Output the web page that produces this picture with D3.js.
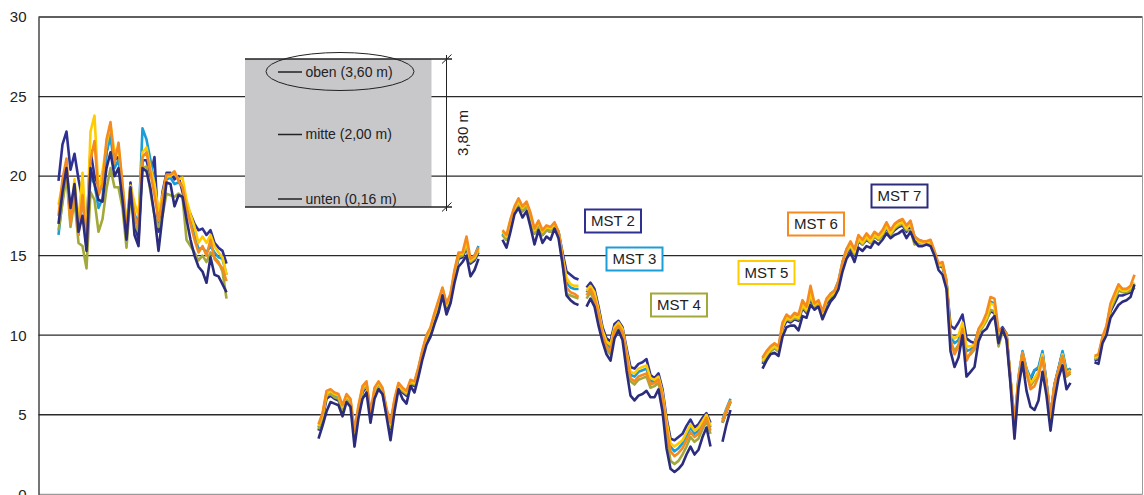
<!DOCTYPE html>
<html>
<head>
<meta charset="utf-8">
<script src="https://cdn.jsdelivr.net/npm/d3@7/dist/d3.min.js"></script>
<style>
  html, body { margin: 0; padding: 0; background: #fff; }
  svg { display: block; font-family: "Liberation Sans", Arial, sans-serif; }
</style>
</head>
<body>
<svg id="chart" width="1144" height="495"></svg>
<script>
// Measurement steps that carry data (inclusive ranges); gaps between them are missing readings
const segments = [[5, 47], [70, 110], [116, 135], [137, 168], [171, 173], [181, 258], [264, 274]];
const stepCount = 276;

const yTicks = [0, 5, 10, 15, 20, 25, 30];

const seriesNames = ["MST 2", "MST 3", "MST 4", "MST 5", "MST 6", "MST 7"];
const seriesColors = ["#2e3192", "#1b9dd9", "#a2a83a", "#ffcc00", "#f58a1f", "#2c2c7c"];

// Temperatures in °C, one value per step, listed segment after segment
const mst2 = [
  19.7,22.0,22.8,20.4,21.4,19.8,18.5,16.6,21.6,20.0,19.4,19.2,21.5,22.7,21.0,21.2,18.7,16.2,19.6,17.0,16.0,21.0,21.0,20.0,21.2,16.5,19.0,20.2,20.2,19.8,20.0,19.0,18.2,17.6,17.0,16.6,16.7,16.3,16.6,15.8,15.5,15.3,14.5,
  4.0,4.7,6.0,6.2,6.0,5.9,5.2,6.0,5.7,3.6,5.2,6.4,6.8,4.8,6.3,6.8,6.4,5.1,4.1,5.6,6.7,6.4,6.2,6.9,6.8,7.7,8.8,9.7,10.2,11.1,11.8,12.7,11.7,12.3,13.7,14.8,14.9,15.5,14.5,14.7,15.2,
  16.3,16.0,17.0,17.8,18.2,17.8,18.1,17.4,16.4,16.9,16.3,16.6,16.5,16.9,16.5,15.2,14.0,13.8,13.6,13.5,
  13.0,13.3,12.9,11.8,10.5,9.8,9.6,10.7,10.9,10.5,9.2,8.0,7.9,8.2,8.3,8.5,7.5,7.3,7.6,6.6,4.8,3.5,3.4,3.6,3.8,4.3,4.7,4.2,4.4,4.8,5.1,4.5,
  4.5,5.2,5.8,
  8.2,8.6,9.0,9.2,9.0,10.4,10.9,10.8,11.0,10.9,11.7,11.4,12.3,11.7,12.0,11.2,12.0,12.3,12.6,13.1,
  14.3,15.1,15.5,15.0,15.9,15.7,16.0,15.8,16.2,16.0,16.3,16.7,16.3,16.6,16.8,16.9,16.5,16.8,16.0,15.8,
  15.8,15.8,15.8,15.1,14.3,14.3,13.3,10.6,10.4,10.8,11.3,9.8,9.6,9.5,10.3,10.7,11.0,11.5,11.4,10.2,
  10.5,10.1,7.2,4.1,7.2,8.9,7.8,7.2,7.8,7.9,8.9,7.0,4.8,6.9,7.9,8.9,7.6,7.9,
  8.4,8.5,9.7,10.3,11.5,12.0,12.5,12.5,12.6,12.7,13.0
];
const mst3 = [
  16.3,18.5,20.5,17.5,19.0,16.3,19.0,15.6,20.0,19.5,18.0,18.6,21.5,22.5,20.5,21.0,19.2,16.8,19.0,17.6,17.0,23.0,22.3,21.0,19.5,17.3,18.5,19.8,19.9,19.5,19.6,19.4,18.0,17.2,16.3,15.4,15.5,15.2,15.6,15.2,14.9,14.8,13.8,
  4.2,4.9,6.3,6.4,6.2,6.1,5.4,6.2,5.8,3.8,5.4,6.6,7.0,4.9,6.5,7.0,6.6,5.3,4.3,5.8,6.9,6.6,6.4,7.1,7.0,7.9,9.0,9.9,10.4,11.3,12.0,12.9,11.9,12.5,13.9,15.0,15.1,15.7,14.7,15.0,15.6,
  16.4,16.1,17.1,17.9,18.3,17.9,18.2,17.5,16.5,17.0,16.4,16.7,16.6,17.0,16.5,14.9,13.3,13.0,12.9,12.9,
  12.7,13.0,12.5,11.5,10.2,9.5,9.2,10.4,10.7,10.3,8.9,7.5,7.4,7.7,7.8,7.9,7.1,7.1,7.3,6.3,4.4,3.0,2.7,2.9,3.2,3.7,4.2,3.8,4.0,4.5,4.9,4.2,
  4.7,5.4,6.0,
  8.5,8.9,9.2,9.4,9.2,10.6,11.2,11.1,11.3,11.2,12.0,11.7,12.5,11.9,12.1,11.4,12.2,12.6,12.8,13.4,
  14.6,15.4,15.8,15.3,16.2,15.9,16.3,16.0,16.4,16.2,16.5,17.0,16.5,16.9,17.1,17.2,16.8,17.1,16.2,16.0,
  15.9,15.9,15.9,15.2,14.4,14.5,13.4,9.9,9.5,9.7,10.6,9.0,9.1,9.3,10.2,10.6,11.2,12.1,12.0,10.1,
  10.4,10.0,7.2,4.2,7.4,9.0,7.9,7.3,7.8,8.0,9.0,7.0,4.9,6.9,7.9,9.0,7.8,7.9,
  8.6,8.7,9.8,10.5,11.8,12.4,13.1,12.9,12.9,13.0,13.2
];
const mst4 = [
  16.6,18.3,20.0,16.8,18.5,15.8,15.6,14.2,19.0,18.5,16.5,17.3,19.2,20.5,19.3,19.3,18.0,15.5,18.8,17.0,16.5,20.5,20.6,19.0,17.5,16.8,17.5,18.9,18.8,18.7,18.9,18.7,16.0,15.6,15.2,14.7,15.0,14.6,15.2,14.9,14.6,14.0,12.3,
  4.1,4.8,6.2,6.3,6.1,6.0,5.3,6.0,5.7,3.7,5.3,6.5,6.9,4.8,6.4,6.9,6.5,5.2,4.2,5.7,6.8,6.5,6.3,7.0,6.9,7.8,8.9,9.8,10.3,11.2,11.9,12.8,11.8,12.4,13.8,14.9,15.0,15.6,14.6,14.8,15.3,
  16.3,16.0,17.0,17.8,18.2,17.8,18.1,17.4,16.4,16.9,16.3,16.6,16.5,16.9,16.3,14.6,12.6,12.5,12.4,12.3,
  12.3,12.7,12.1,11.2,9.8,9.1,8.8,10.1,10.5,10.0,8.6,7.1,6.9,7.2,7.3,7.4,6.7,6.8,7.0,5.9,3.7,2.1,1.9,2.1,2.5,3.0,3.6,3.3,3.5,4.1,4.6,3.8,
  4.5,5.2,5.8,
  8.3,8.7,9.0,9.2,9.0,10.7,11.0,10.9,11.1,11.0,11.8,11.5,12.4,11.8,12.0,11.3,12.1,12.4,12.6,13.2,
  14.4,15.2,15.6,15.1,16.0,15.7,16.1,15.8,16.2,16.0,16.3,16.8,16.3,16.7,16.9,17.0,16.6,16.6,15.7,15.8,
  15.8,15.8,15.8,15.1,14.3,14.4,13.3,9.6,9.0,9.4,10.3,8.6,8.8,9.1,10.1,10.5,10.9,11.6,11.5,9.3,
  10.2,9.9,7.1,4.0,7.2,8.8,7.6,6.8,7.2,7.6,8.7,6.7,4.6,6.7,7.7,8.6,7.4,7.6,
  8.5,8.6,9.7,10.4,11.6,12.2,12.8,12.7,12.7,12.8,13.0
];
const mst5 = [
  18.2,19.5,20.8,17.2,19.8,17.0,20.2,15.8,22.8,23.8,19.0,20.3,22.0,23.2,21.5,21.8,19.5,17.0,19.4,18.3,17.5,21.5,21.8,20.5,19.5,17.8,18.8,20.0,20.0,20.2,19.8,19.9,18.5,17.6,16.8,15.8,16.2,15.8,16.3,15.6,15.2,14.9,13.8,
  4.3,5.0,6.3,6.5,6.3,6.2,5.5,6.2,5.9,3.9,5.5,6.7,7.0,5.0,6.6,7.0,6.6,5.3,4.4,5.9,6.9,6.6,6.4,7.1,7.0,7.9,9.0,9.9,10.4,11.3,12.1,12.9,11.9,12.5,14.0,15.1,15.1,15.8,14.7,14.9,15.4,
  16.5,16.2,17.2,18.0,18.4,18.0,18.3,17.6,16.6,17.1,16.5,16.8,16.7,17.0,16.5,15.0,13.6,13.2,13.1,13.1,
  12.8,13.1,12.7,11.6,10.3,9.6,9.4,10.5,10.8,10.4,9.0,7.7,7.6,7.9,8.0,8.1,7.3,7.2,7.4,6.4,4.6,3.2,3.0,3.2,3.4,3.9,4.4,4.0,4.2,4.6,5.0,4.3,
  4.6,5.3,5.9,
  8.4,8.8,9.1,9.3,9.1,10.5,11.1,11.0,11.2,11.1,11.9,11.6,12.6,11.9,12.1,11.4,12.2,12.5,12.7,13.3,
  14.5,15.3,15.7,15.2,16.1,15.8,16.2,15.9,16.3,16.1,16.4,16.9,16.4,16.8,17.0,17.1,16.7,17.0,16.1,15.9,
  15.8,15.8,15.9,15.2,14.4,14.5,13.4,10.0,9.8,10.0,10.8,9.3,9.3,9.4,10.3,10.6,11.1,12.0,11.9,10.0,
  10.3,10.0,7.2,4.2,7.3,8.9,7.8,7.0,7.3,7.7,8.8,6.9,4.8,6.8,7.8,8.8,7.6,7.8,
  8.6,8.7,9.8,10.5,11.8,12.4,13.0,12.8,12.8,13.0,13.3
];
const mst6 = [
  17.5,19.8,21.1,17.0,19.1,16.3,18.8,15.5,21.0,22.2,18.8,19.5,22.3,23.4,20.8,22.1,19.5,16.5,19.2,17.5,16.8,21.2,21.5,20.2,18.8,17.2,18.5,20.1,20.1,20.3,19.7,19.3,18.0,17.0,16.0,15.2,15.6,15.0,16.0,14.8,14.5,14.2,13.4,
  4.4,5.1,6.5,6.6,6.4,6.3,5.6,6.3,6.0,4.0,5.6,6.8,7.1,5.1,6.7,7.1,6.7,5.4,4.5,6.0,7.0,6.7,6.5,7.2,7.1,8.0,9.1,10.0,10.5,11.4,12.2,13.0,12.0,12.6,14.1,15.2,15.2,16.2,14.8,15.0,15.5,
  16.6,16.3,17.3,18.1,18.6,18.1,18.4,17.7,16.7,17.2,16.6,16.9,16.8,17.1,16.5,14.8,13.0,12.7,12.6,12.4,
  12.5,12.9,12.3,11.4,10.0,9.3,9.0,10.3,10.6,10.2,8.8,7.3,7.1,7.4,7.5,7.6,6.9,7.0,7.2,6.2,4.2,2.7,2.4,2.6,2.9,3.4,3.9,3.6,3.8,4.3,4.8,4.0,
  4.6,5.3,5.9,
  8.6,9.0,9.3,9.5,9.3,10.8,11.3,11.1,11.4,11.3,12.2,11.8,13.1,12.0,12.2,11.5,12.3,12.6,12.8,13.4,
  14.6,15.4,15.9,15.4,16.3,16.0,16.4,16.1,16.5,16.3,16.6,17.1,16.6,17.0,17.2,17.3,16.9,17.2,16.2,16.0,
  15.9,15.9,16.0,15.3,14.5,14.6,13.4,9.7,8.8,9.3,10.4,8.4,8.9,9.2,10.4,10.8,11.4,12.4,12.3,10.3,
  10.4,10.1,7.3,4.6,7.3,8.9,7.7,6.6,6.8,7.4,8.6,6.8,5.0,6.9,7.8,8.7,7.5,7.7,
  8.7,8.8,9.9,10.6,12.0,12.6,13.2,12.9,12.9,13.1,13.8
];
const mst7 = [
  17.0,19.0,20.5,18.0,19.5,16.5,17.5,15.3,20.5,19.5,18.5,18.4,20.5,21.5,20.0,20.5,18.5,16.0,19.3,16.3,15.6,20.5,20.3,19.2,17.5,15.3,17.5,19.6,19.5,18.1,18.8,18.7,17.3,16.0,15.0,14.3,14.0,13.3,14.9,13.8,13.7,13.2,12.7,
  3.5,4.3,5.2,5.8,5.7,5.6,4.9,5.8,5.5,3.0,4.8,6.0,6.4,4.5,6.0,6.6,6.3,4.9,3.4,5.2,6.6,6.0,5.7,6.8,6.4,7.4,8.5,9.4,9.9,10.7,11.4,12.5,11.3,12.0,13.3,14.3,14.6,15.0,13.7,14.1,14.8,
  16.0,15.5,16.5,17.6,18.0,17.4,17.8,16.8,15.7,16.6,15.8,16.2,16.0,16.7,16.1,14.5,12.5,12.2,12.0,11.9,
  11.8,12.3,11.8,10.6,9.6,8.8,8.4,9.8,10.3,9.7,7.8,6.2,5.9,6.2,6.3,6.5,6.1,6.1,6.6,5.2,2.9,1.6,1.4,1.6,1.9,2.5,3.0,2.5,2.8,3.6,4.2,3.0,
  3.3,4.4,5.3,
  7.9,8.4,8.8,8.9,8.7,9.9,10.5,10.6,10.6,10.3,11.2,11.1,11.9,11.6,11.8,11.0,11.6,12.1,12.4,12.9,
  14.0,14.8,15.2,14.6,15.5,15.3,15.6,15.5,15.9,15.7,16.0,16.4,16.1,16.3,16.4,16.6,16.1,16.5,15.9,15.6,
  15.6,15.7,15.6,15.0,14.1,13.8,12.9,9.0,8.0,8.6,10.0,7.4,7.7,8.0,9.6,10.2,10.4,10.9,11.2,9.5,
  10.4,9.7,6.9,3.5,6.7,8.3,6.5,5.5,5.3,5.9,7.7,6.2,4.0,5.9,7.3,8.1,6.6,7.0,
  8.3,8.2,9.5,10.0,11.1,11.5,11.9,12.1,12.2,12.4,13.2
];
const seriesValues = [mst2, mst3, mst4, mst5, mst6, mst7];

// Sensor depth legend
const depthLabels = ["oben (3,60 m)", "mitte (2,00 m)", "unten (0,16 m)"];
const tankHeight = 3.80;
const tankLabel = "3,80 m";

const svg = d3.select("#chart");
const plot = { left: 38.5, right: 1142.5, top: 17, bottom: 494.3 };

const x = d3.scaleLinear().domain([0, stepCount]).range([plot.left, plot.right]);
const y = d3.scaleLinear().domain([0, 30]).range([plot.bottom, plot.top]);

// horizontal grid
svg.append("g").selectAll("line").data(yTicks).join("line")
  .attr("x1", plot.left).attr("x2", plot.right)
  .attr("y1", d => y(d)).attr("y2", d => y(d))
  .attr("stroke", d => d === 0 ? "#9a9a9a" : "#2a2a2a")
  .attr("stroke-width", 1.3);

// right frame edge
svg.append("line")
  .attr("x1", plot.right).attr("x2", plot.right)
  .attr("y1", plot.top).attr("y2", plot.bottom)
  .attr("stroke", "#9a9a9a").attr("stroke-width", 1);

// y axis
const yAxis = svg.append("g")
  .attr("transform", `translate(${plot.left},0)`)
  .call(d3.axisLeft(y).tickValues(yTicks).tickSize(0).tickPadding(12));
yAxis.select(".domain").attr("stroke", "#2a2a2a").attr("stroke-width", 1.3);
yAxis.selectAll("text").attr("font-size", 15).attr("fill", "#222")
  .attr("font-family", "'Liberation Sans', Arial, sans-serif");

// depth sketch (drawn above the grid)
const tank = svg.append("g");
const tankY = d3.scaleLinear().domain([0, tankHeight]).range([207, 59]);
tank.append("rect")
  .attr("x", 245).attr("y", tankY(tankHeight))
  .attr("width", 186.5).attr("height", tankY(0) - tankY(tankHeight))
  .attr("fill", "#c8c8ca");
[0, tankHeight].forEach(v => {
  tank.append("line")
    .attr("x1", 245).attr("x2", 452)
    .attr("y1", tankY(v)).attr("y2", tankY(v))
    .attr("stroke", "#222").attr("stroke-width", 1.3);
  tank.append("line")
    .attr("x1", 442).attr("x2", 451.5)
    .attr("y1", tankY(v) + 4.5).attr("y2", tankY(v) - 4.5)
    .attr("stroke", "#222").attr("stroke-width", 1);
});
tank.append("line")
  .attr("x1", 446.5).attr("x2", 446.5)
  .attr("y1", tankY(tankHeight) - 4).attr("y2", tankY(0) + 4)
  .attr("stroke", "#222").attr("stroke-width", 1);
tank.append("text")
  .attr("transform", `translate(468,${(tankY(0) + tankY(tankHeight)) / 2}) rotate(-90)`)
  .attr("text-anchor", "middle")
  .attr("font-size", 15).attr("fill", "#222")
  .text(tankLabel);
const markerY = [72, 134.5, 199];
depthLabels.forEach((label, k) => {
  tank.append("line")
    .attr("x1", 278).attr("x2", 302)
    .attr("y1", markerY[k]).attr("y2", markerY[k])
    .attr("stroke", "#222").attr("stroke-width", 1.5);
  tank.append("text")
    .attr("x", 305.5).attr("y", markerY[k]).attr("dy", "0.35em")
    .attr("font-size", 14).attr("fill", "#222")
    .text(label);
});
tank.append("ellipse")
  .attr("cx", 340).attr("cy", 71.5).attr("rx", 74).attr("ry", 19)
  .attr("fill", "none").attr("stroke", "#222").attr("stroke-width", 1);

// series lines
function toPoints(values) {
  const pts = [];
  let k = 0;
  segments.forEach(([a, b], s) => {
    for (let t = a; t <= b; t++) pts.push({ t, v: values[k++] });
    if (s < segments.length - 1) pts.push({ t: b + 0.5, v: null });
  });
  return pts;
}
const line = d3.line()
  .defined(d => d.v !== null)
  .x(d => x(d.t))
  .y(d => y(d.v));

svg.append("g").selectAll("path").data(seriesValues).join("path")
  .attr("d", vals => line(toPoints(vals)))
  .attr("fill", "none")
  .attr("stroke", (d, i) => seriesColors[i])
  .attr("stroke-width", 2.6)
  .attr("stroke-linejoin", "round");

// series tags
const tagPos = [[613, 221], [634.5, 259], [679, 305], [766.5, 272.5], [816, 224], [899.5, 196]];
const tags = svg.append("g").selectAll("g").data(seriesNames).join("g")
  .attr("transform", (d, i) => `translate(${tagPos[i][0]},${tagPos[i][1]})`);
tags.append("rect")
  .attr("x", -28).attr("y", -11.5).attr("width", 56).attr("height", 23)
  .attr("fill", "#fff")
  .attr("stroke", (d, i) => seriesColors[i]).attr("stroke-width", 2);
tags.append("text")
  .attr("text-anchor", "middle").attr("dy", "0.36em")
  .attr("font-size", 15).attr("fill", "#222")
  .text(d => d);
</script>
</body>
</html>
